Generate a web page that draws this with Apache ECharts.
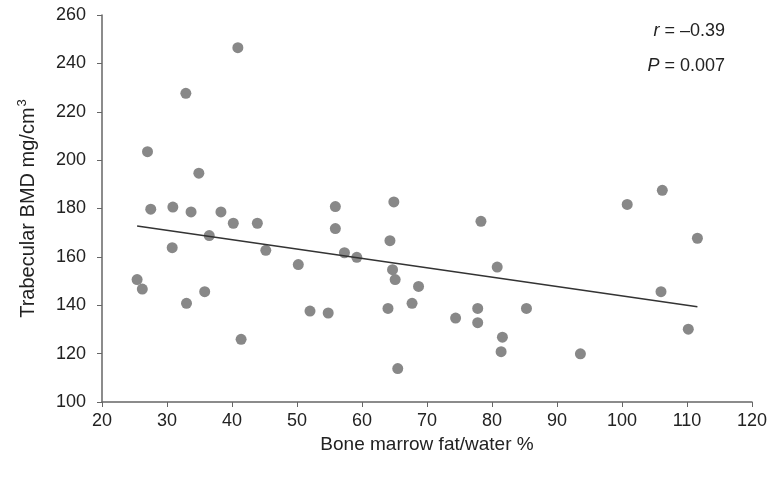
<!DOCTYPE html>
<html>
<head>
<meta charset="utf-8">
<script src="https://cdn.jsdelivr.net/npm/echarts@6/dist/echarts.min.js"></script>
<style>
  html, body { margin: 0; padding: 0; background: #fff; }
  #chart { width: 776px; height: 477px; }
</style>
</head>
<body>
<div id="chart"></div>
<script>
// fat/water % and trabecular BMD per subject
const fatWater = [40.9, 32.9, 27.0, 34.9, 27.5, 30.9, 33.7, 38.3, 40.2, 43.9, 36.5, 30.8, 45.2, 50.2, 25.4, 26.2,
  35.8, 33.0, 41.4, 52.0, 54.8, 55.9, 55.9, 57.3, 59.2, 64.9, 64.3, 64.7, 65.1, 68.7, 67.7, 64.0,
  65.5, 74.4, 77.8, 77.8, 78.3, 80.8, 81.6, 81.4, 85.3, 93.6, 100.8, 106.2, 111.6, 106.0, 110.2]
const bmd = [246.5, 227.6, 203.5, 194.6, 179.7, 180.6, 178.6, 178.6, 173.9, 173.9, 168.8, 163.8, 162.7, 156.8, 150.6, 146.7,
  145.6, 140.8, 125.9, 137.6, 136.8, 180.8, 171.7, 161.7, 159.8, 182.7, 166.7, 154.7, 150.6, 147.8, 140.8, 138.7,
  113.8, 134.7, 138.7, 132.8, 174.7, 155.8, 126.8, 120.8, 138.7, 119.9, 181.7, 187.5, 167.7, 145.6, 130.1]
// fitted line end points
const fitX = [25.4, 111.6]
const fitY = [172.8, 139.4]

const points = fatWater.map((x, i) => [x, bmd[i]])
const fitLine = fitX.map((x, i) => [x, fitY[i]])

const font = 'Liberation Sans'
const axisColor = '#666'
const textColor = '#222'

let myChart = echarts.init(document.getElementById('chart'))
myChart.setOption({
  animation: false,
  textStyle: { fontFamily: font },
  grid: { left: 102, right: 24, top: 15, bottom: 75 },
  xAxis: {
    type: 'value',
    min: 20,
    max: 120,
    interval: 10,
    name: 'Bone marrow fat/water %',
    nameLocation: 'middle',
    nameGap: 27,
    nameTextStyle: { fontSize: 19, color: textColor, fontFamily: font },
    splitLine: { show: false },
    axisLine: { lineStyle: { color: axisColor, width: 1.5 } },
    axisTick: { show: true, length: 5, lineStyle: { color: axisColor } },
    axisLabel: { fontSize: 18, color: textColor, margin: 10, fontFamily: font }
  },
  yAxis: {
    type: 'value',
    min: 100,
    max: 260,
    interval: 20,
    name: 'Trabecular BMD mg/cm{sup|3}',
    nameLocation: 'middle',
    nameGap: 62,
    nameTextStyle: {
      fontSize: 20,
      color: textColor,
      fontFamily: font,
      rich: { sup: { fontSize: 13, color: textColor, fontFamily: font, padding: [0, 0, 11, 1] } }
    },
    splitLine: { show: false },
    axisLine: { show: true, lineStyle: { color: axisColor, width: 1.5 } },
    axisTick: { show: true, length: 5, lineStyle: { color: axisColor } },
    axisLabel: { fontSize: 18, color: textColor, margin: 16, fontFamily: font }
  },
  graphic: [{
    type: 'text',
    right: 51,
    top: 22,
    style: {
      text: '{i|r} = –0.39',
      fontSize: 18,
      fontFamily: font,
      fill: textColor,
      rich: { i: { fontStyle: 'italic', fontSize: 18, fontFamily: font, fill: textColor } }
    }
  }, {
    type: 'text',
    right: 51,
    top: 57,
    style: {
      text: '{i|P} = 0.007',
      fontSize: 18,
      fontFamily: font,
      fill: textColor,
      rich: { i: { fontStyle: 'italic', fontSize: 18, fontFamily: font, fill: textColor } }
    }
  }],
  series: [{
    type: 'scatter',
    data: points,
    symbolSize: 11,
    itemStyle: { color: '#888', opacity: 1 }
  }, {
    type: 'line',
    data: fitLine,
    symbol: 'none',
    lineStyle: { color: '#333', width: 1.5 }
  }]
})
</script>
</body>
</html>
